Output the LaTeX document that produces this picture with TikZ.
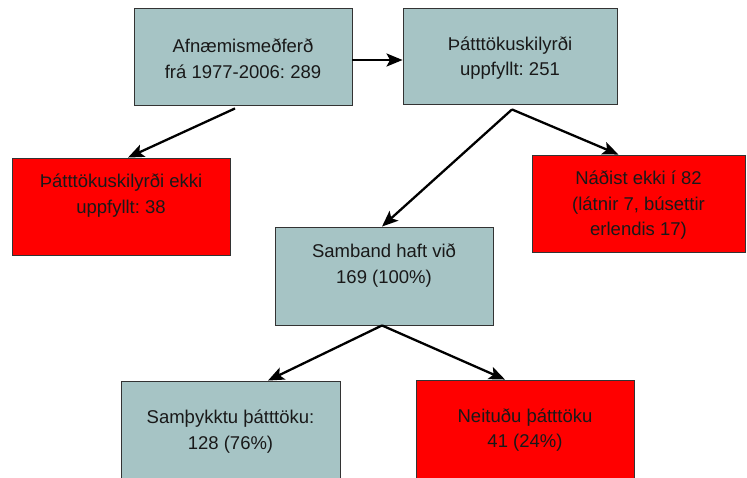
\documentclass[tikz,border=0pt]{standalone}
\usepackage{fontspec}
\setmainfont{Liberation Sans}
\frenchspacing
\usetikzlibrary{arrows.meta}
\definecolor{boxgrey}{HTML}{A6C4C5}
\definecolor{boxred}{HTML}{FF0000}
\definecolor{edge}{HTML}{333333}
\tikzset{
  box/.style={draw=edge, line width=0.9pt, minimum width=#1, inner sep=0pt},
  greybox/.style={fill=boxgrey},
  redbox/.style={fill=boxred},
  txt/.style={align=center, font=\fontsize{18.5}{25.5}\selectfont, text=black!90, inner sep=0pt},
  arr/.style={line width=2.3pt, -{Stealth[length=16pt, width=13pt, inset=3.5pt]}}
}
\begin{document}
\begin{tikzpicture}[x=1pt,y=-1pt]
\useasboundingbox (0,0) rectangle (747,477);
% boxes
\node[box=218pt, greybox, minimum height=97pt] (A) at (243,56.5) {};
\node[box=214pt, greybox, minimum height=96pt] (B) at (510,56) {};
\node[box=218pt, redbox, minimum height=97pt] (C) at (121,206.5) {};
\node[box=213pt, redbox, minimum height=97pt] (D) at (638.5,203.5) {};
\node[box=218pt, greybox, minimum height=98pt] (E) at (384,276) {};
\node[box=219pt, greybox, minimum height=98pt] (F) at (230.5,430) {};
\node[box=218pt, redbox, minimum height=98pt] (G) at (525,429) {};
% texts
\node[txt] (At) at (243,58.5) {Afnæmismeðferð\\frá 1977-2006: 289};
\node[txt] (Bt) at (510,58) {Þátttökuskilyrði\\uppfyllt: 251};
\node[txt] (Ct) at (121,195.5) {Þátttökuskilyrði ekki\\uppfyllt: 38};
\node[txt] (Dt) at (638.5,205.5) {Náðist ekki í 82\\(látnir 7, búsettir\\erlendis 17)};
\node[txt] (Et) at (384,265.5) {Samband haft við\\169 (100\%)};
\node[txt] (Ft) at (230.5,431.5) {Samþykktu þátttöku:\\128 (76\%)};
\node[txt] (Gt) at (525,430) {Neituðu þátttöku\\41 (24\%)};
% connectors
\coordinate (Bs) at ([xshift=2pt,yshift=-5pt]B.south);
\draw[arr] ([yshift=-3.5pt]A.east) -- ([yshift=-3.5pt]A.east -| B.west);
\draw[arr] ([xshift=-8pt,yshift=-3pt]A.south) -- ([xshift=7pt]C.north);
\draw[arr] (Bs) -- ([xshift=-2pt]E.north);
\draw[arr] (Bs) -- ([xshift=-20pt]D.north);
\draw[arr] ([xshift=-2pt]E.south) -- ([xshift=37.5pt]F.north);
\draw[arr] ([xshift=-2pt]E.south) -- ([xshift=-20pt]G.north);
\end{tikzpicture}
\end{document}
